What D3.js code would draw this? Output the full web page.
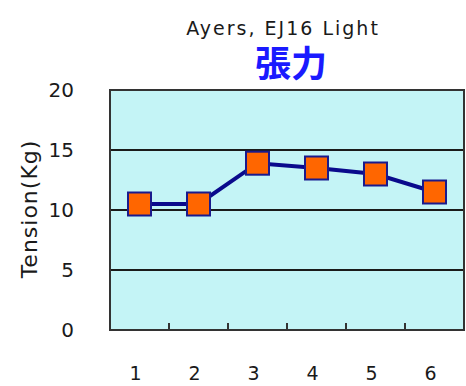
<!DOCTYPE html>
<html>
<head>
<meta charset="utf-8">
<script src="https://cdn.jsdelivr.net/npm/d3@7"></script>
<style>
body { margin: 0; background: #fff; }
text { font-family: "DejaVu Sans", "Liberation Sans", sans-serif; }
</style>
</head>
<body>
<div id="chart"></div>
<script>
var categories = ['1', '2', '3', '4', '5', '6'];
var tension = [10.5, 10.5, 13.9, 13.5, 13.0, 11.5];
var yTicks = [0, 5, 10, 15, 20];

var width = 466, height = 386;
var margin = {top: 90, right: 2, bottom: 56, left: 110};
var w = width - margin.left - margin.right,
	h = height - margin.top - margin.bottom;

var svg = d3.select('#chart').append('svg')
	.attr('width', width)
	.attr('height', height);

var g = svg.append('g')
	.attr('transform', 'translate(' + margin.left + ',' + margin.top + ')');

var x = d3.scaleBand().domain(categories).range([0, w]);
var y = d3.scaleLinear().domain([0, 20]).range([h, 0]);

// plot background
g.append('rect')
	.attr('width', w)
	.attr('height', h)
	.attr('fill', '#c4f4f6');

// gridlines
g.selectAll('.grid')
	.data(yTicks.filter(function (d) { return d > 0 && d < 20; }))
	.enter().append('line')
		.attr('x1', 0).attr('x2', w)
		.attr('y1', function (d) { return y(d); })
		.attr('y2', function (d) { return y(d); })
		.attr('stroke', '#1a1a1a')
		.attr('stroke-width', 2);

// border
g.append('rect')
	.attr('width', w)
	.attr('height', h)
	.attr('fill', 'none')
	.attr('stroke', '#333')
	.attr('stroke-width', 2);

// x ticks between categories
g.selectAll('.xtick')
	.data(categories.slice(1))
	.enter().append('line')
		.attr('x1', function (d) { return x(d); })
		.attr('x2', function (d) { return x(d); })
		.attr('y1', h).attr('y2', h - 7)
		.attr('stroke', '#333')
		.attr('stroke-width', 2);

// y labels
g.selectAll('.ylab')
	.data(yTicks)
	.enter().append('text')
		.attr('x', -36)
		.attr('y', function (d) { return y(d); })
		.attr('dy', '0.36em')
		.attr('text-anchor', 'end')
		.style('font-size', '20px')
		.attr('fill', '#1a1a1a')
		.text(function (d) { return d; });

// x labels
g.selectAll('.xlab')
	.data(categories)
	.enter().append('text')
		.attr('x', function (d) { return x(d) + x.bandwidth() / 2 - 4; })
		.attr('y', h + 50)
		.attr('text-anchor', 'middle')
		.style('font-size', '19px')
		.attr('fill', '#1a1a1a')
		.text(function (d) { return d; });

// line
var line = d3.line()
	.x(function (d, i) { return x(categories[i]) + x.bandwidth() / 2; })
	.y(function (d) { return y(d); });

g.append('path')
	.attr('d', line(tension))
	.attr('fill', 'none')
	.attr('stroke', '#0a0a8c')
	.attr('stroke-width', 4);

// markers
var s = 23;
g.selectAll('.marker')
	.data(tension)
	.enter().append('rect')
		.attr('x', function (d, i) { return x(categories[i]) + x.bandwidth() / 2 - s / 2; })
		.attr('y', function (d) { return y(d) - s / 2; })
		.attr('width', s)
		.attr('height', s)
		.attr('fill', '#ff6600')
		.attr('stroke', '#1a1a8c')
		.attr('stroke-width', 2);

// axis title
svg.append('text')
	.attr('transform', 'translate(37,209) rotate(-90)')
	.attr('text-anchor', 'middle')
	.style('font-size', '22px')
	.style('letter-spacing', '1px')
	.attr('fill', '#1a1a1a')
	.text('Tension(Kg)');

// titles
svg.append('text')
	.attr('x', 283)
	.attr('y', 35)
	.attr('text-anchor', 'middle')
	.style('font-size', '19px')
	.style('letter-spacing', '2px')
	.attr('fill', '#1a1a1a')
	.text('Ayers, EJ16 Light');

svg.append('text')
	.attr('x', 291)
	.attr('y', 77)
	.attr('text-anchor', 'middle')
	.style('font-family', '"Noto Sans CJK JP", sans-serif')
	.style('font-size', '36px')
	.style('font-weight', 'bold')
	.attr('fill', '#1a1aff')
	.text('張力');
</script>
</body>
</html>
